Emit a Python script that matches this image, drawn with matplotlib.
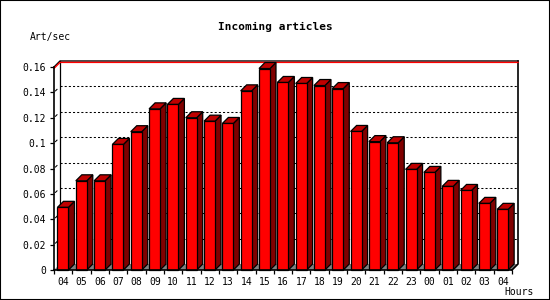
import matplotlib
matplotlib.use('Agg')
import matplotlib.pyplot as plt
from matplotlib.patches import Polygon, Rectangle

hours = ['04', '05', '06', '07', '08', '09', '10', '11', '12', '13', '14', '15', '16',
         '17', '18', '19', '20', '21', '22', '23', '00', '01', '02', '03', '04']
rate = [0.0494, 0.0703, 0.0703, 0.0990, 0.1090, 0.1270, 0.1305, 0.1200, 0.1173, 0.1155,
        0.1412, 0.1588, 0.1478, 0.1470, 0.1454, 0.1430, 0.1092, 0.1012, 0.1003, 0.0793,
        0.0769, 0.0659, 0.0627, 0.0525, 0.0478]
yticks = [0, 0.02, 0.04, 0.06, 0.08, 0.1, 0.12, 0.14, 0.16]
ytick_labels = ['0', '0.02', '0.04', '0.06', '0.08', '0.1', '0.12', '0.14', '0.16']

W, H = 550, 300
fig = plt.figure(figsize=(5.5, 3), dpi=100)
fig.patch.set_facecolor('white')

# plot area in pixels (front plane)
left_px, right_px, bottom_px, top_px = 54, 512, 270, 67
ax = fig.add_axes([left_px / W, 1 - bottom_px / H, (right_px - left_px) / W, (bottom_px - top_px) / H])
n = len(rate)
ymax = 0.16
ax.set_xlim(0, n)
ax.set_ylim(0, ymax)
ax.set_facecolor('none')
for s in ax.spines.values():
    s.set_visible(False)

# depth of the 3D effect, 6 px converted to data units
depth = 6
dx = depth / ((right_px - left_px) / n)
dy = depth / ((bottom_px - top_px) / ymax)
px_y = dy / depth

mono = 'DejaVu Sans Mono'

# floor
ax.add_patch(Polygon([(0, 0), (n, 0), (n + dx, dy), (dx, dy)], closed=True,
                     facecolor='#808080', edgecolor='none', zorder=1, clip_on=False))

# grid lines on back wall
for v in yticks[1:-1]:
    ax.plot([dx, n + dx], [v + dy, v + dy], color='black', lw=0.75, dashes=(2, 2),
            zorder=1, clip_on=False)
    ax.plot([dx * 0.25, dx * 0.5], [v + dy * 0.25, v + dy * 0.5], color='black', lw=0.75,
            zorder=1, clip_on=False)

# back wall frame: black edge with a red line just under it
ax.plot([0, dx, n + dx], [ymax, ymax + dy, ymax + dy], color='black', lw=1.0,
        zorder=2, clip_on=False)
ax.plot([0, dx, n + dx], [ymax - 1.4 * px_y, ymax + dy - 1.4 * px_y, ymax + dy - 1.4 * px_y],
        color='red', lw=1.0, zorder=2, clip_on=False)
ax.plot([dx, dx], [dy, ymax + dy], color='black', lw=0.9, zorder=1, clip_on=False)
ax.plot([n + dx, n + dx, n], [ymax + dy, dy, 0], color='black', lw=1.2, zorder=1, clip_on=False)

# bars
a, w = 0.19, 0.6
for i, v in enumerate(rate):
    x0 = i + a
    x1 = x0 + w
    ax.add_patch(Polygon([(x1, 0), (x1 + dx, dy), (x1 + dx, v + dy), (x1, v)], closed=True,
                         facecolor='#800000', edgecolor='black', lw=0.9, zorder=3, clip_on=False))
    ax.add_patch(Polygon([(x0, v), (x1, v), (x1 + dx, v + dy), (x0 + dx, v + dy)], closed=True,
                         facecolor='#c00000', edgecolor='black', lw=0.9, zorder=3, clip_on=False))
    ax.add_patch(Rectangle((x0, 0), w, v, facecolor='#ff0000', edgecolor='black', lw=0.9,
                           zorder=4, clip_on=False))

# front axes
ax.plot([0, 0], [0, ymax], color='black', lw=1.2, zorder=5, clip_on=False)
ax.plot([0, n], [0, 0], color='black', lw=1.2, zorder=5, clip_on=False)

ax.set_yticks(yticks)
ax.set_yticklabels(ytick_labels, fontfamily=mono, fontsize=7)
ax.set_xticks(range(n + 1))
ax.set_xticklabels([])
ax.set_xticks([i + 0.5 for i in range(n)], minor=True)
ax.set_xticklabels(hours, minor=True, fontfamily=mono, fontsize=7)
ax.tick_params(axis='y', length=3, width=0.9, pad=2.5)
ax.tick_params(axis='x', which='major', length=3, width=0.9, direction='out')
ax.tick_params(axis='x', which='minor', length=0, pad=5)

fig.text(0.5, 1 - 27 / H, 'Incoming articles', ha='center', va='center',
         fontfamily=mono, fontweight='bold', fontsize=8)
fig.text(30 / W, 1 - 37 / H, 'Art/sec', ha='left', va='center', fontfamily=mono, fontsize=7)
fig.text(504 / W, 1 - 292 / H, 'Hours', ha='left', va='center', fontfamily=mono, fontsize=7)

fig.patches.append(Rectangle((0, 0), 1, 1, transform=fig.transFigure, fill=False,
                             edgecolor='black', lw=1.5))

fig.savefig('out.png', dpi=100)
